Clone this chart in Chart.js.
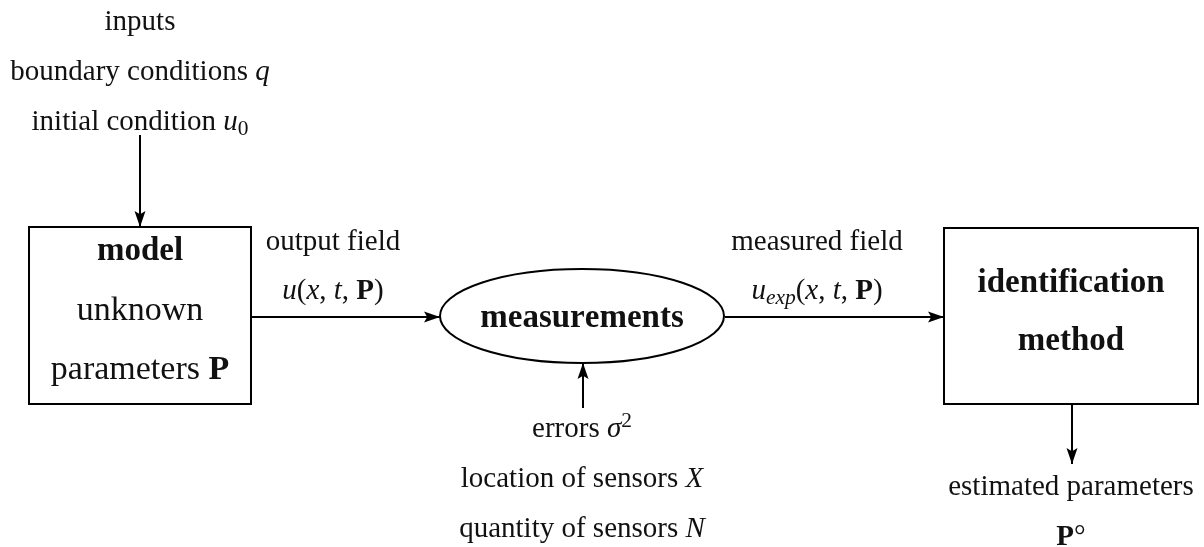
<!DOCTYPE html>
<html>
<head>
<meta charset="utf-8">
<script src="https://cdn.jsdelivr.net/npm/chart.js@4.4.1/dist/chart.umd.min.js"></script>
<style>
  html, body { margin: 0; padding: 0; background: #fff; }
  #wrap { width: 1204px; height: 547px; }
</style>
</head>
<body>
<div id="wrap"><canvas id="diagram"></canvas></div>
<script>
// diagram coordinates: x 0..1204, y 0..547 (top down)
const boxNames = ["model", "identification"];
const boxLeft = [29, 944];
const boxTop = [227, 228];
const boxRight = [251, 1198];
const boxBottom = [404, 404];

const ellipseCenter = [582, 316];
const ellipseRadius = [142, 47];

const arrowFromX = [140, 251, 725, 583, 1072];
const arrowFromY = [135, 317, 317, 408, 404];
const arrowToX = [140, 440, 944, 583, 1072];
const arrowToY = [227, 317, 317, 363, 464];

// $..$ math (letters italic), *..* bold, _x / ^x sub/superscript
const labelText = [
  "inputs", "boundary conditions $q$", "initial condition $u_0$",
  "*model*", "unknown", "parameters *P*",
  "output field", "$u(x, t, *P*)$",
  "*measurements*",
  "measured field", "$u_{exp}(x, t, *P*)$",
  "*identification*", "*method*",
  "errors $σ^2$", "location of sensors $X$", "quantity of sensors $N$",
  "estimated parameters", "*P*°"
];
const labelX = [140, 140, 140, 140, 140, 140, 333, 333, 582, 817, 817, 1071, 1071, 582, 582, 582, 1071, 1071];
const labelY = [30, 80, 130, 260, 320, 379, 250, 299, 327, 250, 299, 292, 350, 437, 487, 537, 495, 545];
const labelSize = ["s", "s", "s", "h", "l", "l", "s", "s", "h", "s", "s", "h", "h", "s", "s", "s", "s", "s"];

const FONT = '"Liberation Serif", "DejaVu Serif", serif';
const SIZES = { s: 29, l: 34, h: 33 };

function parseLabel(str) {
  const out = [];
  let bold = false, math = false;
  let i = 0;
  const push = (ch, shift) => {
    const letter = /[A-Za-zα-ω]/.test(ch);
    out.push({ ch, bold, italic: math && letter && !bold, shift });
  };
  while (i < str.length) {
    const c = str[i];
    if (c === "*") { bold = !bold; i++; continue; }
    if (c === "$") { math = !math; i++; continue; }
    if (c === "_" || c === "^") {
      const shift = c === "_" ? -1 : 1;
      i++;
      if (str[i] === "{") {
        i++;
        while (str[i] !== "}") { push(str[i], shift); i++; }
        i++;
      } else { push(str[i], shift); i++; }
      continue;
    }
    push(c, 0);
    i++;
  }
  return out;
}

function fontFor(tok, size) {
  const s = tok.shift ? size * 0.74 : size;
  return (tok.italic ? "italic " : "") + (tok.bold ? "bold " : "") + s + "px " + FONT;
}

function drawLabel(ctx, str, cx, by, size) {
  const toks = parseLabel(str);
  let w = 0;
  toks.forEach(t => { ctx.font = fontFor(t, size); t.w = ctx.measureText(t.ch).width; w += t.w; });
  let x = cx - w / 2;
  ctx.textBaseline = "alphabetic";
  ctx.textAlign = "left";
  toks.forEach(t => {
    ctx.font = fontFor(t, size);
    const dy = t.shift === -1 ? size * 0.17 : t.shift === 1 ? -size * 0.34 : 0;
    ctx.fillText(t.ch, x, by + dy);
    x += t.w;
  });
}

const lineColor = "#000";

const datasets = [];
boxNames.forEach((name, i) => {
  datasets.push({
    label: name,
    data: [
      { x: boxLeft[i], y: boxTop[i] }, { x: boxRight[i], y: boxTop[i] },
      { x: boxRight[i], y: boxBottom[i] }, { x: boxLeft[i], y: boxBottom[i] },
      { x: boxLeft[i], y: boxTop[i] }
    ],
    showLine: true, borderColor: lineColor, borderWidth: 2, pointRadius: 0, tension: 0,
    borderJoinStyle: "miter", borderCapStyle: "square"
  });
});
arrowFromX.forEach((x, i) => {
  datasets.push({
    label: "arrow" + i,
    data: [{ x: x, y: arrowFromY[i] }, { x: arrowToX[i], y: arrowToY[i] }],
    showLine: true, borderColor: lineColor, borderWidth: 2, pointRadius: 0
  });
});

const diagramPlugin = {
  id: "diagram",
  afterDatasetsDraw(chart) {
    const ctx = chart.ctx;
    const sx = chart.scales.x, sy = chart.scales.y;
    ctx.save();
    // ellipse
    const ecx = sx.getPixelForValue(ellipseCenter[0]);
    const ecy = sy.getPixelForValue(ellipseCenter[1]);
    const erx = Math.abs(sx.getPixelForValue(ellipseCenter[0] + ellipseRadius[0]) - ecx);
    const ery = Math.abs(sy.getPixelForValue(ellipseCenter[1] + ellipseRadius[1]) - ecy);
    ctx.beginPath();
    ctx.ellipse(ecx, ecy, erx, ery, 0, 0, Math.PI * 2);
    ctx.strokeStyle = lineColor;
    ctx.lineWidth = 2;
    ctx.stroke();

    // arrowheads
    ctx.fillStyle = lineColor;
    arrowToX.forEach((x, i) => {
      const tx = sx.getPixelForValue(x), ty = sy.getPixelForValue(arrowToY[i]);
      const fx = sx.getPixelForValue(arrowFromX[i]), fy = sy.getPixelForValue(arrowFromY[i]);
      const len = Math.hypot(tx - fx, ty - fy);
      const dx = (tx - fx) / len, dy = (ty - fy) / len;
      const nx = -dy, ny = dx;
      const L = 16, W = 5.5;
      ctx.beginPath();
      ctx.moveTo(tx, ty);
      ctx.lineTo(tx - L * dx + W * nx, ty - L * dy + W * ny);
      ctx.lineTo(tx - 0.8 * L * dx, ty - 0.8 * L * dy);
      ctx.lineTo(tx - L * dx - W * nx, ty - L * dy - W * ny);
      ctx.closePath();
      ctx.fill();
    });

    // labels
    ctx.fillStyle = "#111";
    labelText.forEach((str, i) => {
      drawLabel(ctx, str, sx.getPixelForValue(labelX[i]), sy.getPixelForValue(labelY[i]), SIZES[labelSize[i]]);
    });
    ctx.restore();
  }
};

new Chart(document.getElementById("diagram"), {
  type: "scatter",
  data: { datasets },
  options: {
    responsive: true,
    maintainAspectRatio: false,
    animation: false,
    layout: { padding: 0 },
    plugins: { legend: { display: false }, tooltip: { enabled: false } },
    scales: {
      x: { type: "linear", min: 0, max: 1204, display: false },
      y: { type: "linear", min: 0, max: 547, reverse: true, display: false }
    }
  },
  plugins: [diagramPlugin]
});
</script>
</body>
</html>
